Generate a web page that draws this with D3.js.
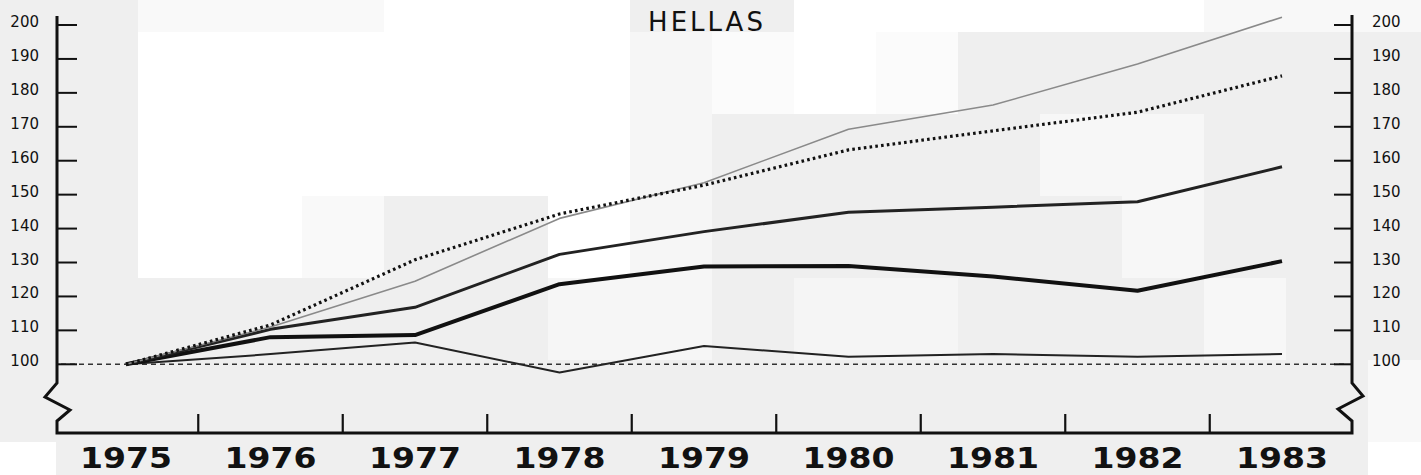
<!DOCTYPE html>
<html>
<head>
<meta charset="utf-8">
<script src="https://cdn.jsdelivr.net/npm/d3@7"></script>
<style>
  html, body { margin: 0; padding: 0; background: #efefef; }
  svg { display: block; }
</style>
</head>
<body>
<svg id="chart" width="1421" height="475"></svg>
<script>
// ---- data ----
const years = [1975, 1976, 1977, 1978, 1979, 1980, 1981, 1982, 1983];
const yTicks = [100, 110, 120, 130, 140, 150, 160, 170, 180, 190, 200];
const title = "HELLAS";
const seriesThinGrey = [100, 111, 124.5, 143, 153.5, 169.3, 176.4, 188.5, 202.3];
const seriesDotted   = [100, 111.6, 130.8, 144.3, 152.8, 163.2, 168.8, 174.3, 185.0];
const seriesMedium   = [100, 110.3, 116.8, 132.4, 139.1, 144.8, 146.3, 147.9, 158.2];
const seriesThick    = [100, 108.0, 108.6, 123.6, 128.8, 129.0, 125.9, 121.7, 130.4];
const seriesThin     = [100, 103.0, 106.4, 97.6, 105.4, 102.2, 103.0, 102.2, 103.0];

// background tonal blocks of the scanned original (styling only)
const bgBlocks = [
  [0, 442, 56, 475, "#ffffff"],
  [1368, 442, 1421, 475, "#ffffff"],
  [1368, 360, 1421, 442, "#f8f8f8"],
  [1368, 0, 1421, 32, "#f8f8f8"],
  [138, 0, 384, 32, "#f9f9f9"],
  [138, 32, 384, 196, "#ffffff"],
  [138, 196, 302, 278, "#ffffff"],
  [302, 196, 384, 278, "#f9f9f9"],
  [384, 0, 548, 196, "#ffffff"],
  [548, 0, 630, 278, "#ffffff"],
  [548, 278, 630, 360, "#f6f6f6"],
  [630, 32, 712, 360, "#f6f6f6"],
  [712, 32, 794, 114, "#fbfbfb"],
  [794, 0, 958, 32, "#ffffff"],
  [794, 32, 876, 114, "#ffffff"],
  [876, 32, 958, 114, "#fbfbfb"],
  [794, 278, 958, 360, "#f5f5f5"],
  [958, 0, 1204, 32, "#ffffff"],
  [1204, 0, 1368, 32, "#f8f8f8"],
  [1040, 114, 1204, 196, "#f7f7f7"],
  [1122, 196, 1204, 278, "#f7f7f7"],
  [1204, 278, 1286, 360, "#f7f7f7"]
];

const svg = d3.select("#chart");

svg.append("g").selectAll("rect").data(bgBlocks).join("rect")
  .attr("x", d => d[0]).attr("y", d => d[1])
  .attr("width", d => d[2] - d[0]).attr("height", d => d[3] - d[1])
  .attr("fill", d => d[4]);

const x = d3.scaleLinear().domain([1975, 1983]).range([126, 1282]);
const y = d3.scaleLinear().domain([100, 200]).range([364.3, 25]);

const axL = 57, axR = 1352, axB = 433;

// title
svg.append("text")
  .attr("x", 707).attr("y", 31)
  .attr("text-anchor", "middle")
  .attr("font-family", "DejaVu Sans, sans-serif")
  .attr("font-size", 26)
  .attr("letter-spacing", 3)
  .attr("fill", "#111")
  .text(title);

// reference dashed line at 100
svg.append("line")
  .attr("x1", axL + 4).attr("x2", axR - 4)
  .attr("y1", y(100)).attr("y2", y(100))
  .attr("stroke", "#333").attr("stroke-width", 1.4)
  .attr("stroke-dasharray", "5,4");

// frame with broken-axis zigzags
const frame = d3.path();
frame.moveTo(axL, 16);
frame.lineTo(axL, 383);
frame.lineTo(axL - 12, 397);
frame.lineTo(axL + 13, 410);
frame.lineTo(axL, 421);
frame.lineTo(axL, axB);
frame.lineTo(axR, axB);
frame.lineTo(axR, 421);
frame.lineTo(axR - 14, 409);
frame.lineTo(axR + 11, 396);
frame.lineTo(axR, 383);
frame.lineTo(axR, 15);
svg.append("path").attr("d", frame.toString())
  .attr("fill", "none").attr("stroke", "#111").attr("stroke-width", 3)
  .attr("stroke-linejoin", "miter");

// y ticks left and right
const tg = svg.append("g");
tg.selectAll("line.l").data(yTicks).join("line").attr("class", "l")
  .attr("x1", axL).attr("x2", axL + 20)
  .attr("y1", d => y(d)).attr("y2", d => y(d))
  .attr("stroke", "#111").attr("stroke-width", 2);
tg.selectAll("line.r").data(yTicks).join("line").attr("class", "r")
  .attr("x1", axR - 18).attr("x2", axR)
  .attr("y1", d => y(d)).attr("y2", d => y(d))
  .attr("stroke", "#111").attr("stroke-width", 2);
tg.selectAll("text.l").data(yTicks).join("text").attr("class", "l")
  .attr("x", 39).attr("y", d => y(d) + 2)
  .attr("text-anchor", "end")
  .attr("font-family", "DejaVu Sans, sans-serif")
  .attr("font-size", 15)
  .attr("fill", "#111")
  .text(d => d);
tg.selectAll("text.r").data(yTicks).join("text").attr("class", "r")
  .attr("x", 1372).attr("y", d => y(d) + 2)
  .attr("text-anchor", "start")
  .attr("font-family", "DejaVu Sans, sans-serif")
  .attr("font-size", 15)
  .attr("fill", "#111")
  .text(d => d);

// x ticks at mid-years
const xt = years.slice(0, -1).map(v => v + 0.5);
svg.append("g").selectAll("line").data(xt).join("line")
  .attr("x1", d => x(d)).attr("x2", d => x(d))
  .attr("y1", axB).attr("y2", axB - 19)
  .attr("stroke", "#111").attr("stroke-width", 2.2);

// x labels
svg.append("g").selectAll("text").data(years).join("text")
  .attr("transform", d => `translate(${x(d)},468) scale(1.14,1)`)
  .attr("text-anchor", "middle")
  .attr("font-family", "DejaVu Sans, sans-serif")
  .attr("font-weight", "bold")
  .attr("font-size", 29)
  .attr("fill", "#111")
  .text(d => d);

// series lines
const line = d3.line().x((d, i) => x(years[i])).y(d => y(d));
const styles = [
  { data: seriesThin,     stroke: "#222", width: 2,   dash: null },
  { data: seriesThick,    stroke: "#111", width: 4,   dash: null },
  { data: seriesMedium,   stroke: "#222", width: 3,   dash: null },
  { data: seriesThinGrey, stroke: "#8a8a8a", width: 1.6, dash: null },
  { data: seriesDotted,   stroke: "#111", width: 3.2, dash: "2.6,3.2" }
];
svg.append("g").selectAll("path").data(styles).join("path")
  .attr("d", s => line(s.data))
  .attr("fill", "none")
  .attr("stroke", s => s.stroke)
  .attr("stroke-width", s => s.width)
  .attr("stroke-dasharray", s => s.dash)
  .attr("stroke-linejoin", "round");
</script>
</body>
</html>
